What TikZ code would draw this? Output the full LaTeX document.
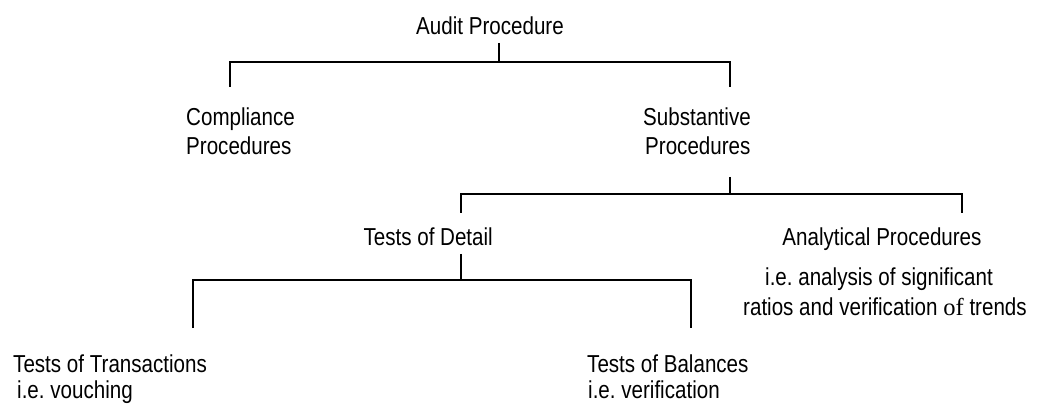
\documentclass[tikz,border=0pt]{standalone}
\usepackage{fontspec}
\setmainfont{Liberation Sans}[FakeStretch=0.84]
\newfontfamily\seriffont{Liberation Serif}
\frenchspacing
\begin{document}
\begin{tikzpicture}[x=1pt,y=-1pt,
  lbl/.style={inner sep=0pt, font=\fontsize{24.5}{28}\selectfont},
  conn/.style={line width=1.7pt, line join=miter}]
\useasboundingbox[fill=white] (0,0) rectangle (1050,414);

% texts
\node[lbl, anchor=base] (root) at (490,35) {Audit Procedure};
\node[lbl, anchor=base west] (comp1) at (186,126) {Compliance};
\node[lbl, anchor=base west] (comp2) at (186,155) {Procedures};
\node[lbl, anchor=base west] (subs1) at (643,126) {Substantive};
\node[lbl, anchor=base west] (subs2) at (645,155) {Procedures};
\node[lbl, anchor=base east] (tod) at (493,246) {Tests of Detail};
\node[lbl, anchor=base] (ana1) at (882,246) {Analytical Procedures};
\node[lbl, anchor=base west] (ana2) at (765,285) {i.e. analysis of significant};
\node[lbl, anchor=base west] (ana3) at (743,315) {ratios and verification {\seriffont of} trends};
\node[lbl, anchor=base west] (tot1) at (13,372) {Tests of Transactions};
\node[lbl, anchor=base west] (tot2) at (17,398) {i.e. vouching};
\node[lbl, anchor=base west] (tob1) at (587,372) {Tests of Balances};
\node[lbl, anchor=base west] (tob2) at (588,398) {i.e. verification};

% junction coordinates
\coordinate (a0) at (499,43);
\coordinate (a1) at (499,62);
\coordinate (al) at (230,62);
\coordinate (ar) at (730,62);
\coordinate (ald) at (230,87);
\coordinate (ard) at (730,87);

\coordinate (b0) at (730,177);
\coordinate (b1) at (730,194);
\coordinate (bl) at (461,194);
\coordinate (br) at (962,194);
\coordinate (bld) at (461,213);
\coordinate (brd) at (962,213);

\coordinate (c0) at (461,254);
\coordinate (c1) at (461,280);
\coordinate (cl) at (193,280);
\coordinate (cr) at (691,280);
\coordinate (cld) at (193,328);
\coordinate (crd) at (691,328);

% connectors
\draw[conn] (a0) -- (a1);
\draw[conn] (ald) -- (al) -- (ar) -- (ard);
\draw[conn] (b0) -- (b1);
\draw[conn] (bld) -- (bl) -- (br) -- (brd);
\draw[conn] (c0) -- (c1);
\draw[conn] (cld) -- (cl) -- (cr) -- (crd);
\end{tikzpicture}
\end{document}
